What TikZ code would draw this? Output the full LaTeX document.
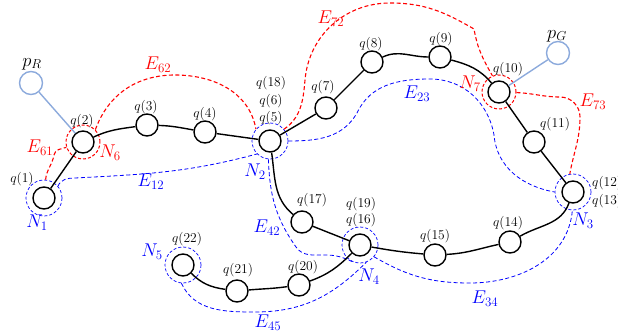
\RequirePackage{fix-cm}
\documentclass[tikz,border=0pt]{standalone}
\definecolor{pblue}{RGB}{140,170,220}
\begin{document}
\begin{tikzpicture}[x=1pt,y=1pt,
  qn/.style={circle,draw=black,fill=white,line width=1.4pt,minimum size=22pt,inner sep=0pt},
  pn/.style={circle,draw=pblue,line width=1.4pt,minimum size=23pt,inner sep=0pt},
  halored/.style={circle,draw=red,line width=1pt,dash pattern=on 3pt off 2pt,minimum size=34pt,inner sep=0pt},
  haloblue/.style={circle,draw=blue,line width=0.7pt,dash pattern=on 3pt off 2pt,minimum size=36pt,inner sep=0pt},
  edge/.style={line width=1.4pt},
  rb/.style={draw=red,line width=1.1pt,dash pattern=on 4pt off 2.5pt},
  bb/.style={draw=blue,line width=0.8pt,dash pattern=on 4pt off 2.5pt},
  ql/.style={font=\fontsize{13.5}{15}\selectfont},
  bl/.style={font=\fontsize{18.5}{20}\selectfont},
]
\useasboundingbox (0,0) rectangle (618,335);
% halos
\node[haloblue] (h1) at (44,137) {};
\node[halored] (h2) at (83,193) {};
\node[haloblue] (h5) at (270,194) {};
\node[halored] (h10) at (499,243) {};
\node[haloblue] (h12) at (573,143) {};
\node[haloblue] (h16) at (360,90) {};
\node[haloblue] (h22) at (183,70) {};
% nodes
\node[qn] (q1) at (44,137) {};
\node[qn] (q2) at (83,193) {};
\node[qn] (q3) at (147,210) {};
\node[qn] (q4) at (205,203) {};
\node[qn] (q5) at (270,194) {};
\node[qn] (q7) at (326,227) {};
\node[qn] (q8) at (372,273) {};
\node[qn] (q9) at (440,278) {};
\node[qn] (q10) at (499,243) {};
\node[qn] (q11) at (534,193) {};
\node[qn] (q12) at (573,143) {};
\node[qn] (q14) at (510,93) {};
\node[qn] (q15) at (435,80) {};
\node[qn] (q16) at (360,90) {};
\node[qn] (q17) at (302,113) {};
\node[qn] (q20) at (299,50) {};
\node[qn] (q21) at (237,44) {};
\node[qn] (q22) at (183,70) {};
\node[pn] (pR) at (31,252) {};
\node[pn] (pG) at (558,282) {};
% coordinates for boundary curves
\coordinate (e61a) at (54,180);
\coordinate (e62a) at (175,260);
\coordinate (e72a) at (305,255);
\coordinate (e72b) at (390,332);
\coordinate (e72c) at (474,306);
\coordinate (e73a) at (560,238);
\coordinate (e73b) at (580,218);
\coordinate (e12a) at (75,157);
\coordinate (e23a) at (357,222);
\coordinate (e23b) at (430,256);
\coordinate (e23c) at (494,200);
\coordinate (e42a) at (296,88);
\coordinate (e42b) at (325,80);
\coordinate (e45a) at (255,23);
\coordinate (e34a) at (470,52);
% red boundaries
\draw[rb] (h1.85) to[out=85,in=-100] (e61a) to[out=80,in=195] (h2.198);
\draw[rb] (h2.45) to[out=70,in=180] (e62a) to[out=0,in=100] (h5.140);
\draw[rb] (h5.40) to[out=35,in=-95] (e72a) to[out=85,in=180] (e72b) to[out=0,in=150] (e72c) to[out=-80,in=120] (h10.112);
\draw[rb] (h10.-2) to[out=-2,in=180] (e73a) to[out=0,in=90] (e73b) to[out=-90,in=80] (h12.100);
% blue boundaries
\draw[bb] (h1.40) to[out=70,in=180] (e12a) to[out=3,in=195] (h5.225);
\draw[bb] (h5.0) to[out=0,in=-120] (e23a) to[out=65,in=180] (e23b) to[out=0,in=100] (e23c) to[out=-85,in=170] (h12.180);
\draw[bb] (h5.265) to[out=-88,in=125] (e42a) to[out=-55,in=180] (e42b) to[out=0,in=155] (h16.245);
\draw[bb] (h22.265) to[out=-65,in=180] (e45a) to[out=0,in=225] (h16.290);
\draw[bb] (h16.-40) to[out=-30,in=180] (e34a) to[out=0,in=-95] (h12.268);
% path edges
\draw[edge] (q1) -- (q2);
\draw[edge] (q2) to[out=25,in=188] (q3);
\draw[edge] (q3) to[out=-2,in=170] (q4);
\draw[edge] (q4) -- (q5);
\draw[edge] (q5) -- (q7);
\draw[edge] (q7) -- (q8);
\draw[edge] (q8) to[out=25,in=180] (q9);
\draw[edge] (q9) to[out=-15,in=130] (q10);
\draw[edge] (q10) -- (q11);
\draw[edge] (q11) -- (q12);
\draw[edge] (q12) to[out=250,in=30] (q14);
\draw[edge] (q14) to[out=192,in=3] (q15);
\draw[edge] (q15) to[out=175,in=-10] (q16);
\draw[edge] (q16) -- (q17);
\draw[edge] (q5) to[out=-82,in=140] (q17);
\draw[edge] (q16) to[out=225,in=20] (q20);
\draw[edge] (q20) to[out=188,in=5] (q21);
\draw[edge] (q21) to[out=172,in=-45] (q22);
\draw[pblue,line width=1.4pt] (pR) -- (q2);
\draw[pblue,line width=1.4pt] (q10) -- (pG);
% q labels
\node[ql] (lq1) at (22,156) {$q(1)$};
\node[ql] (lq2) at (82,214) {$q(2)$};
\node[ql] (lq3) at (146,228) {$q(3)$};
\node[ql] (lq4) at (205,221) {$q(4)$};
\node[ql] (lq18) at (271,252) {$q(18)$};
\node[ql] (lq6) at (271,234) {$q(6)$};
\node[ql] (lq5) at (271,217) {$q(5)$};
\node[ql] (lq7) at (323,248) {$q(7)$};
\node[ql] (lq8) at (371,291) {$q(8)$};
\node[ql] (lq9) at (441,296) {$q(9)$};
\node[ql] (lq10) at (508,266) {$q(10)$};
\node[ql] (lq11) at (555,211) {$q(11)$};
\node[ql,anchor=west,inner sep=0pt] (lq12) at (592,152) {$q(12)$};
\node[ql,anchor=west,inner sep=0pt] (lq13) at (592,134) {$q(13)$};
\node[ql] (lq17) at (312,135) {$q(17)$};
\node[ql] (lq19) at (361,131) {$q(19)$};
\node[ql] (lq16) at (361,115) {$q(16)$};
\node[ql] (lq15) at (435,99) {$q(15)$};
\node[ql] (lq14) at (508,112) {$q(14)$};
\node[ql] (lq20) at (303,68) {$q(20)$};
\node[ql] (lq21) at (238,65) {$q(21)$};
\node[ql] (lq22) at (187,96) {$q(22)$};
% big labels
\node[bl] (lpR) at (32,271) {$p_R$};
\node[bl] (lpG) at (557,299) {$p_G$};
\node[bl,red] (lE61) at (40,187) {$E_{61}$};
\node[bl,red] (lN6) at (110,182) {$N_6$};
\node[bl,red] (lE62) at (158,270) {$E_{62}$};
\node[bl,red] (lE72) at (331,316) {$E_{72}$};
\node[bl,red] (lN7) at (470,251) {$N_7$};
\node[bl,red] (lE73) at (593,233) {$E_{73}$};
\node[bl,blue] (lE12) at (151,153) {$E_{12}$};
\node[bl,blue] (lN2) at (255,163) {$N_2$};
\node[bl,blue] (lE23) at (417,241) {$E_{23}$};
\node[bl,blue] (lN1) at (37,112) {$N_1$};
\node[bl,blue] (lN3) at (583,114) {$N_3$};
\node[bl,blue] (lE42) at (267,107) {$E_{42}$};
\node[bl,blue] (lN5) at (152,83) {$N_5$};
\node[bl,blue] (lN4) at (369,58) {$N_4$};
\node[bl,blue] (lE45) at (268,12) {$E_{45}$};
\node[bl,blue] (lE34) at (485,36) {$E_{34}$};
\end{tikzpicture}
\end{document}
